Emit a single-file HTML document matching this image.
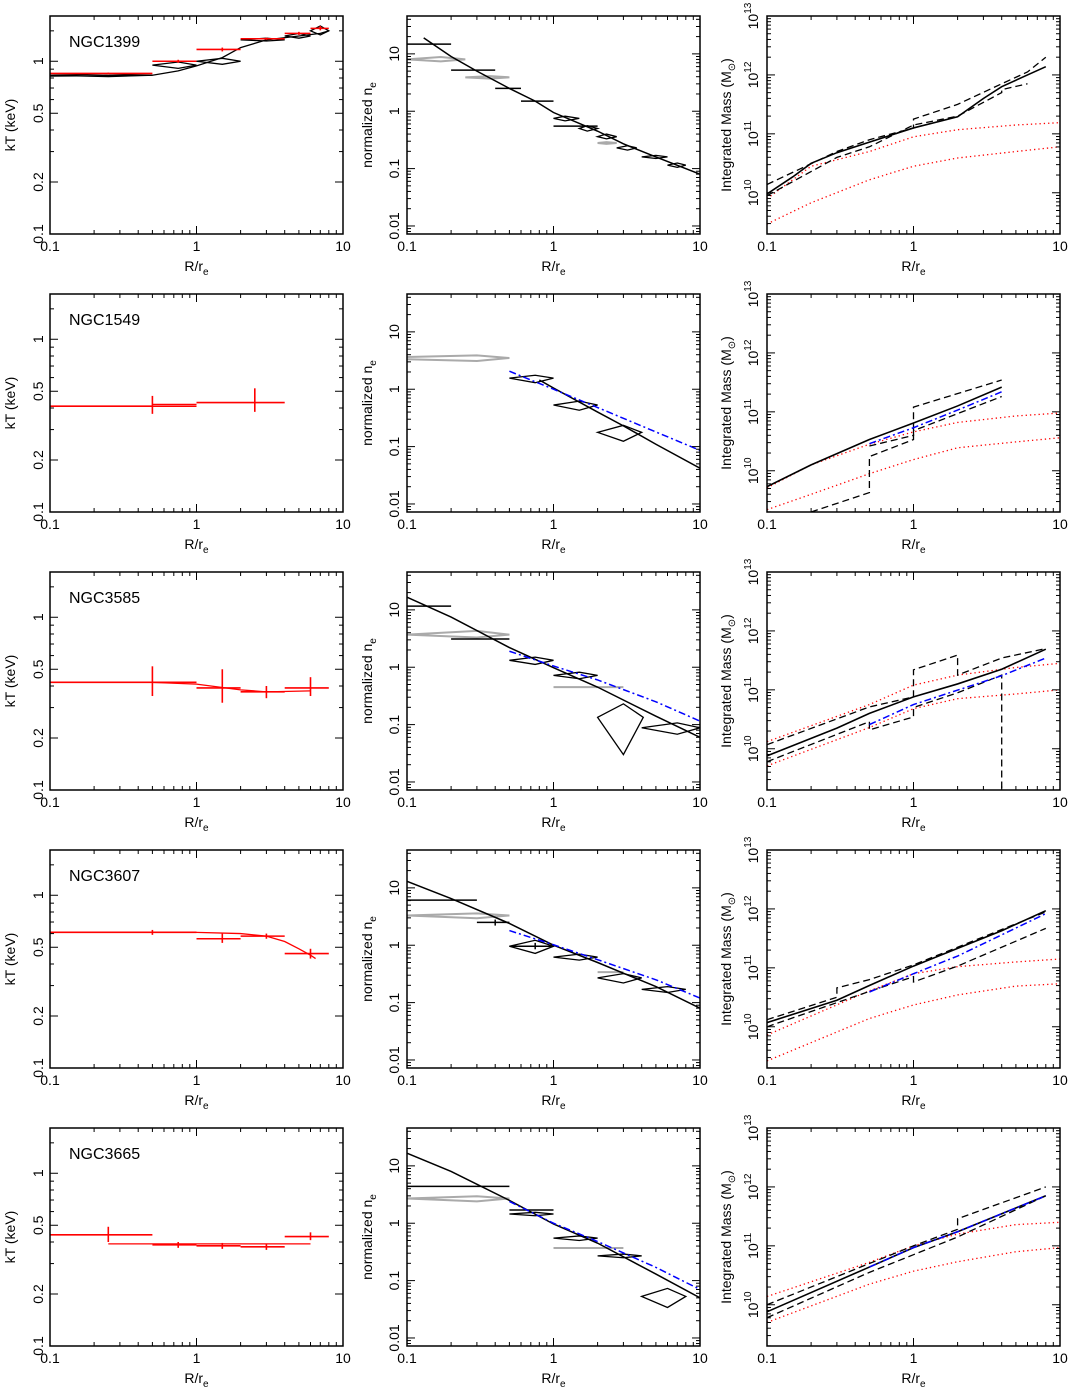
<!DOCTYPE html>
<html><head><meta charset="utf-8">
<style>
html,body{margin:0;padding:0;background:#fff;}
svg{display:block;font-family:"Liberation Sans",sans-serif;}
</style></head>
<body>
<svg id="fig" width="1068" height="1388" viewBox="0 0 1068 1388" xmlns="http://www.w3.org/2000/svg"></svg>
<script>
// ---------- DATA ----------
const galaxies = ["NGC1399","NGC1549","NGC3585","NGC3607","NGC3665"];
const xTicksMajor = [0.1,1,10];
const xTickLabels = ["0.1","1","10"];
const ktTickVals = [0.1,0.2,0.5,1];
const ktTickLabels = ["0.1","0.2","0.5","1"];
const neTickVals = [0.01,0.1,1,10];
const neTickLabels = ["0.01","0.1","1","10"];
const massTickExp = [10,11,12,13];

// kT panels: crosses [x,xlo,xhi,y,ylo,yhi]
const kt1399Red = [[0.25,0.1,0.5,0.85,0.84,0.86],[0.75,0.5,1,1.0,0.98,1.02],[1.5,1,2,1.17,1.14,1.2],[3,2,4,1.35,1.33,1.37],[5,4,6,1.45,1.42,1.48],[7,6,8,1.55,1.51,1.6]];
const kt1399Dia = [[0.25,0.1,0.5,0.83,0.815,0.845],[0.75,0.5,1,0.95,0.91,0.99],[1.5,1,2,1.0,0.96,1.04],[3,2,4,1.33,1.31,1.36],[5,4,6,1.4,1.36,1.45],[7,6,8,1.5,1.42,1.6]];
const kt1399CurveX = [0.1,0.5,0.75,1,1.5,2,3,5,7,8];
const kt1399CurveY = [0.82,0.83,0.88,0.94,1.05,1.2,1.33,1.4,1.45,1.5];
const kt1549Red = [[0.5,0.1,1,0.41,0.37,0.47],[2.5,1,4,0.43,0.38,0.52]];
const kt1549CurveX = [0.5,1];
const kt1549CurveY = [0.42,0.42];
const kt3585Red = [[0.5,0.1,1,0.42,0.35,0.52],[1.5,1,2,0.39,0.32,0.5],[3,2,4,0.37,0.34,0.4],[6,4,8,0.39,0.35,0.45]];
const kt3585CurveX = [0.1,0.5,1,2,3,6];
const kt3585CurveY = [0.42,0.42,0.41,0.38,0.37,0.375];
const kt3607Red = [[0.5,0.1,1,0.61,0.59,0.63],[1.5,1,2,0.56,0.53,0.6],[3,2,4,0.58,0.56,0.6],[6,4,8,0.46,0.43,0.49]];
const kt3607CurveX = [0.1,1,2,3,4,5,6,6.5];
const kt3607CurveY = [0.61,0.61,0.6,0.58,0.54,0.49,0.45,0.43];
const kt3665Red = [[0.25,0.1,0.5,0.44,0.4,0.49],[0.75,0.5,1,0.385,0.37,0.4],[1.5,1,2,0.38,0.365,0.395],[3,2,4,0.375,0.36,0.39],[6,4,8,0.43,0.41,0.455]];
const kt3665CurveX = [0.25,1,6];
const kt3665CurveY = [0.39,0.39,0.39];

// ne panels
const ne1399Cross = [[0.15,0.1,0.2,14.8,14.8,14.8],[0.3,0.2,0.4,5.2,5.2,5.2],[0.5,0.4,0.6,2.5,2.5,2.5],[0.75,0.6,1,1.5,1.5,1.5],[1.5,1,2,0.55,0.55,0.55]];
const ne1399Gray = [[0.17,0.1,0.25,8,7.4,8.8],[0.37,0.25,0.5,3.9,3.7,4.1],[2.3,2,2.7,0.28,0.27,0.29]];
const ne1399Dia = [[1.2,1,1.5,0.75,0.68,0.82],[1.7,1.5,2,0.5,0.45,0.56],[2.3,2,2.7,0.36,0.33,0.4],[3.2,2.7,3.7,0.23,0.21,0.25],[5,4,6,0.16,0.15,0.17],[7,6,8,0.115,0.105,0.125]];
const ne1399CurveX = [0.13,0.2,0.3,0.5,0.75,1,2,3,5,10];
const ne1399CurveY = [19,9,5,2.5,1.5,0.95,0.45,0.27,0.16,0.08];
const ne1549Gray = [[0.3,0.05,0.5,3.5,3.1,3.9]];
const ne1549Dia = [[0.75,0.5,1,1.56,1.3,1.75],[1.5,1,2,0.53,0.43,0.62],[3,2,4,0.177,0.124,0.235]];
const ne1549CurveX = [0.8,1,2,3,5,10];
const ne1549CurveY = [1.45,1.05,0.4,0.23,0.11,0.042];
const ne1549BlueX = [0.5,1,2,5,10];
const ne1549BlueY = [2.06,1.0,0.48,0.18,0.086];
const ne3585Cross = [[0.15,0.1,0.2,11.6,11.6,11.6],[0.36,0.2,0.5,3.1,3.1,3.1]];
const ne3585Gray = [[0.3,0.1,0.5,3.7,3.3,4.3],[2,1,3,0.45,0.45,0.45]];
const ne3585Dia = [[0.75,0.5,1,1.32,1.12,1.5],[1.5,1,2,0.72,0.63,0.82],[3,2,4.1,0.134,0.03,0.23],[7,4,10,0.088,0.068,0.107]];
const ne3585CurveX = [0.1,0.2,0.5,1,2,5,10];
const ne3585CurveY = [16.6,7.5,2.2,0.98,0.45,0.14,0.06];
const ne3585BlueX = [0.5,1,2,5,10];
const ne3585BlueY = [1.9,1.05,0.6,0.25,0.115];
const ne3607Cross = [[0.2,0.1,0.3,6.1,6.1,6.1],[0.4,0.3,0.5,2.5,2.2,2.8],[0.75,0.5,1,0.96,0.85,1.1]];
const ne3607Gray = [[0.3,0.1,0.5,3.3,2.95,3.6],[2.5,2,3,0.34,0.34,0.34]];
const ne3607Dia = [[0.75,0.5,1,0.96,0.72,1.22],[1.5,1,2,0.62,0.55,0.7],[3,2,4,0.27,0.22,0.32],[6,4,8,0.17,0.15,0.19]];
const ne3607CurveX = [0.1,0.2,0.5,1,2,5,10];
const ne3607CurveY = [13,6.5,2.4,1.0,0.5,0.19,0.08];
const ne3607BlueX = [0.5,1,2,5,10];
const ne3607BlueY = [1.8,1.02,0.56,0.25,0.12];
const ne3665Cross = [[0.3,0.1,0.5,4.4,4.4,4.4],[0.75,0.5,1,1.7,1.7,1.7]];
const ne3665Gray = [[0.3,0.1,0.5,2.7,2.4,2.95],[2,1,3,0.37,0.37,0.37]];
const ne3665Dia = [[0.75,0.5,1,1.45,1.35,1.55],[1.5,1,2,0.55,0.5,0.6],[3,2,4,0.27,0.25,0.29],[6,4,8,0.053,0.034,0.073]];
const ne3665CurveX = [0.1,0.2,0.5,1,2,5,10];
const ne3665CurveY = [16.6,8,2.5,0.97,0.45,0.13,0.05];
const ne3665BlueX = [0.5,1,2,5,10];
const ne3665BlueY = [2.4,1.0,0.48,0.17,0.07];

// mass panels (log10 M)
const m1399SolidX = [0.1,0.15,0.2,0.3,0.5,1,2,3,4,6,8];
const m1399SolidY = [9.98,10.27,10.5,10.68,10.86,11.1,11.29,11.6,11.8,12.0,12.14];
const m1399DashAX = [0.1,0.3,0.5,1,1,2,4,6,8];
const m1399DashAY = [10.14,10.7,10.9,11.1,11.25,11.5,11.85,12.05,12.3];
const m1399DashBX = [0.1,0.3,0.5,1,2,4,4,6];
const m1399DashBY = [9.95,10.6,10.78,11.15,11.3,11.7,11.75,11.85];
const m1399RedAX = [0.1,0.2,0.5,1,2,5,10];
const m1399RedAY = [9.9,10.45,10.7,10.95,11.07,11.15,11.19];
const m1399RedBX = [0.1,0.2,0.5,1,2,5,10];
const m1399RedBY = [9.47,9.83,10.22,10.45,10.59,10.7,10.78];

const m1549SolidX = [0.1,0.2,0.5,1,2,4];
const m1549SolidY = [9.73,10.1,10.53,10.81,11.1,11.42];
const m1549BlueX = [0.5,1,2,4];
const m1549BlueY = [10.46,10.73,11.03,11.34];
const m1549DashAX = [0.2,0.5,0.5,1,1,4];
const m1549DashAY = [9.3,9.63,10.24,10.53,11.08,11.54];
const m1549DashBX = [0.5,1,1,4];
const m1549DashBY = [10.42,10.6,10.68,11.26];
const m1549RedAX = [0.1,0.2,0.5,1,2,5,10];
const m1549RedAY = [9.71,10.1,10.45,10.66,10.82,10.93,10.98];
const m1549RedBX = [0.1,0.2,0.5,1,2,5,10];
const m1549RedBY = [9.34,9.6,9.95,10.19,10.39,10.49,10.56];

const m3585SolidX = [0.1,0.3,0.5,1,2,4,8];
const m3585SolidY = [9.88,10.35,10.6,10.88,11.1,11.35,11.69];
const m3585BlueX = [0.5,1,4,8];
const m3585BlueY = [10.41,10.75,11.24,11.54];
const m3585DashAX = [0.1,0.5,1,1,2,2,4,8];
const m3585DashAY = [10.07,10.71,10.88,11.34,11.59,11.25,11.54,11.7];
const m3585DashBX = [0.1,0.5,0.5,1,1,2,4,4];
const m3585DashBY = [9.78,10.46,10.32,10.54,10.7,10.95,11.25,9.3];
const m3585RedAX = [0.1,0.5,1,2,5,10];
const m3585RedAY = [10.12,10.75,11.08,11.25,11.38,11.45];
const m3585RedBX = [0.1,0.5,1,2,5,10];
const m3585RedBY = [9.71,10.36,10.68,10.85,10.93,11.0];

const m3607SolidX = [0.1,0.3,0.5,1,2,4,8];
const m3607SolidY = [10.07,10.45,10.7,11.03,11.33,11.63,11.97];
const m3607BlueX = [0.5,1,2,8];
const m3607BlueY = [10.59,10.9,11.2,11.92];
const m3607DashAX = [0.1,0.3,0.3,0.5,1,2,4,8];
const m3607DashAY = [10.12,10.5,10.66,10.8,11.05,11.35,11.65,11.95];
const m3607DashBX = [0.1,0.5,1,1,2,8];
const m3607DashBY = [10.0,10.6,10.85,10.76,11.03,11.67];
const m3607RedAX = [0.1,0.5,1,2,5,10];
const m3607RedAY = [9.86,10.61,10.9,11.02,11.1,11.15];
const m3607RedBX = [0.1,0.5,1,2,5,10];
const m3607RedBY = [9.42,10.14,10.37,10.54,10.69,10.73];

const m3665SolidX = [0.1,0.5,1,2,8];
const m3665SolidY = [9.88,10.64,10.97,11.24,11.85];
const m3665BlueX = [0.5,1,2,8];
const m3665BlueY = [10.64,10.97,11.24,11.85];
const m3665DashAX = [0.1,0.5,1,2,2,8];
const m3665DashAY = [10.0,10.7,11.0,11.28,11.46,12.0];
const m3665DashBX = [0.1,0.5,1,2,8];
const m3665DashBY = [9.78,10.55,10.85,11.15,11.85];
const m3665RedAX = [0.1,0.5,1,2,5,10];
const m3665RedAY = [10.14,10.72,11.0,11.2,11.36,11.4];
const m3665RedBX = [0.1,0.5,1,2,5,10];
const m3665RedBY = [9.7,10.35,10.57,10.73,10.9,10.97];

// ---------- DRAWING ----------
const NS = "http://www.w3.org/2000/svg";
const svg = document.getElementById("fig");
const COLS = [50,407,767], W = 293, H = 218, TOP0 = 16, PITCH = 278;
const KT_RANGE = [-1, 0.262], NE_RANGE = [-2.14, 1.66], M_RANGE = [9.3, 13];

function mk(tag, attrs, parent, name){
  const el = document.createElementNS(NS, tag);
  for (const k in attrs) el.setAttribute(k, attrs[k]);
  
  
  (parent || svg).appendChild(el);
  return el;
}
const L = Math.log10;

function panel(row, col, yr, ylog){
  const left = COLS[col], top = TOP0 + PITCH*row, bottom = top + H, right = left + W;
  const sx = v => left + (L(v)+1)/2*W;
  const sy = v => { const lv = ylog ? L(v) : v; return bottom - (lv - yr[0])/(yr[1]-yr[0])*H; };
  const g = mk('g', {}, svg, 'panel-r'+(row+1)+'-c'+(col+1));
  const cid = 'clip'+row+'_'+col;
  const cp = mk('clipPath', {id:cid}, g, 'clip-region');
  mk('rect', {x:left, y:top, width:W, height:H}, cp, 'clip-rect');
  const plot = mk('g', {'clip-path':'url(#'+cid+')'}, g, 'plot-area');
  return {left, top, bottom, right, sx, sy, g, plot};
}

function axes(p, yMajor, yMinor){
  const g = p.g;
  for (let d=-1; d<1; d++){
    for (let m=1; m<=9; m++){
      const v = m*Math.pow(10,d); const x = p.sx(v); const len = m===1?8:4;
      mk('line',{x1:x,y1:p.bottom,x2:x,y2:p.bottom-len,stroke:'#000','stroke-width':1},g,'x-tick');
      mk('line',{x1:x,y1:p.top,x2:x,y2:p.top+len,stroke:'#000','stroke-width':1},g,'x-tick-top');
    }
  }
  yMajor.forEach(v=>{ const y=p.sy(v);
    mk('line',{x1:p.left,y1:y,x2:p.left+8,y2:y,stroke:'#000','stroke-width':1},g,'y-tick');
    mk('line',{x1:p.right,y1:y,x2:p.right-8,y2:y,stroke:'#000','stroke-width':1},g,'y-tick-right');
  });
  yMinor.forEach(v=>{ const y=p.sy(v); if (y<p.top||y>p.bottom) return;
    mk('line',{x1:p.left,y1:y,x2:p.left+4,y2:y,stroke:'#000','stroke-width':1},g,'y-minor-tick');
    mk('line',{x1:p.right,y1:y,x2:p.right-4,y2:y,stroke:'#000','stroke-width':1},g,'y-minor-tick-right');
  });
  mk('rect',{x:p.left,y:p.top,width:W,height:H,fill:'none',stroke:'#000','stroke-width':1.5},g,'plot-frame');
  xTicksMajor.forEach((v,i)=>{
    const t = mk('text',{x:p.sx(v),y:p.bottom+17,'text-anchor':'middle','font-size':14},g,'x-tick-label');
    t.textContent = xTickLabels[i];
  });
  const xt = mk('text',{x:(p.left+p.right)/2,y:p.bottom+37,'text-anchor':'middle','font-size':14},g,'x-axis-title');
  xt.textContent = 'R/r';
  const sub = mk('tspan',{'font-size':10,dy:4},xt,'x-title-subscript');
  sub.textContent = 'e';
}

function poly(p, xs, ys, style, name){
  const pts = xs.map((x,i)=>p.sx(x)+','+p.sy(ys[i])).join(' ');
  return mk('polyline', Object.assign({points:pts, fill:'none'}, style), p.plot, name);
}
function crosses(p, arr, color, w, name){
  arr.forEach(d=>{
    mk('line',{x1:p.sx(d[1]),y1:p.sy(d[3]),x2:p.sx(d[2]),y2:p.sy(d[3]),stroke:color,'stroke-width':w},p.plot,name);
    mk('line',{x1:p.sx(d[0]),y1:p.sy(d[4]),x2:p.sx(d[0]),y2:p.sy(d[5]),stroke:color,'stroke-width':w},p.plot,name+'-err');
  });
}
function diamonds(p, arr, color, w, name){
  arr.forEach(d=>{
    const pts = [[d[1],d[3]],[d[0],d[5]],[d[2],d[3]],[d[0],d[4]]].map(q=>p.sx(q[0])+','+p.sy(q[1])).join(' ');
    mk('polygon',{points:pts,fill:'none',stroke:color,'stroke-width':w},p.plot,name);
  });
}

const ktMinor = [0.3,0.4,0.6,0.7,0.8,0.9,1.5];
const decMinor = [];
for (let d=-3; d<2; d++) for (let m=2; m<=9; m++) decMinor.push(m*Math.pow(10,d));
const massMinor = [];
for (let d=9; d<13; d++) for (let m=2; m<=9; m++) massMinor.push(d+L(m));

const ktRed = [kt1399Red,kt1549Red,kt3585Red,kt3607Red,kt3665Red];
const ktCX = [kt1399CurveX,kt1549CurveX,kt3585CurveX,kt3607CurveX,kt3665CurveX];
const ktCY = [kt1399CurveY,kt1549CurveY,kt3585CurveY,kt3607CurveY,kt3665CurveY];
const neCross = [ne1399Cross,[],ne3585Cross,ne3607Cross,ne3665Cross];
const neGray = [ne1399Gray,ne1549Gray,ne3585Gray,ne3607Gray,ne3665Gray];
const neDia = [ne1399Dia,ne1549Dia,ne3585Dia,ne3607Dia,ne3665Dia];
const neCX = [ne1399CurveX,ne1549CurveX,ne3585CurveX,ne3607CurveX,ne3665CurveX];
const neCY = [ne1399CurveY,ne1549CurveY,ne3585CurveY,ne3607CurveY,ne3665CurveY];
const neBX = [null,ne1549BlueX,ne3585BlueX,ne3607BlueX,ne3665BlueX];
const neBY = [null,ne1549BlueY,ne3585BlueY,ne3607BlueY,ne3665BlueY];
const mS = [[m1399SolidX,m1399SolidY],[m1549SolidX,m1549SolidY],[m3585SolidX,m3585SolidY],[m3607SolidX,m3607SolidY],[m3665SolidX,m3665SolidY]];
const mB = [null,[m1549BlueX,m1549BlueY],[m3585BlueX,m3585BlueY],[m3607BlueX,m3607BlueY],[m3665BlueX,m3665BlueY]];
const mDA = [[m1399DashAX,m1399DashAY],[m1549DashAX,m1549DashAY],[m3585DashAX,m3585DashAY],[m3607DashAX,m3607DashAY],[m3665DashAX,m3665DashAY]];
const mDB = [[m1399DashBX,m1399DashBY],[m1549DashBX,m1549DashBY],[m3585DashBX,m3585DashBY],[m3607DashBX,m3607DashBY],[m3665DashBX,m3665DashBY]];
const mRA = [[m1399RedAX,m1399RedAY],[m1549RedAX,m1549RedAY],[m3585RedAX,m3585RedAY],[m3607RedAX,m3607RedAY],[m3665RedAX,m3665RedAY]];
const mRB = [[m1399RedBX,m1399RedBY],[m1549RedBX,m1549RedBY],[m3585RedBX,m3585RedBY],[m3607RedBX,m3607RedBY],[m3665RedBX,m3665RedBY]];

function rotText(g, x, y, txt, size, name){
  const t = mk('text',{x:x,y:y,'text-anchor':'middle','font-size':size,transform:'rotate(-90 '+x+' '+y+')'},g,name);
  t.textContent = txt;
  return t;
}

for (let r=0; r<5; r++){
  const p1 = panel(r,0,KT_RANGE,true);
  if (r===0){
    diamonds(p1, kt1399Dia, '#000', 1.3, 'kt-model-diamond');
    poly(p1, ktCX[r], ktCY[r], {stroke:'#000','stroke-width':1.3}, 'kt-black-curve');
  } else {
    poly(p1, ktCX[r], ktCY[r], {stroke:'#f00','stroke-width':1.3}, 'kt-red-curve');
  }
  crosses(p1, ktRed[r], '#f00', 1.6, 'kt-data-cross');
  axes(p1, ktTickVals, ktMinor);
  ktTickVals.forEach((v,i)=>rotText(p1.g, 43, p1.sy(v), ktTickLabels[i], 14, 'kt-tick-label'));
  rotText(p1.g, 15, p1.top+H/2, 'kT (keV)', 14, 'kt-axis-title');
  const nm = mk('text',{x:69,y:p1.top+31,'font-size':16},p1.g,'galaxy-name');
  nm.textContent = galaxies[r];

  const p2 = panel(r,1,NE_RANGE,true);
  diamonds(p2, neGray[r], '#aaa', 2, 'ne-gray-profile');
  crosses(p2, neCross[r], '#000', 1.5, 'ne-data-cross');
  diamonds(p2, neDia[r], '#000', 1.3, 'ne-data-diamond');
  poly(p2, neCX[r], neCY[r], {stroke:'#000','stroke-width':1.5}, 'ne-model-curve');
  if (neBX[r]) poly(p2, neBX[r], neBY[r], {stroke:'#00f','stroke-width':1.5,'stroke-dasharray':'7,3,2,3'}, 'ne-blue-dashdot');
  axes(p2, neTickVals, decMinor);
  neTickVals.forEach((v,i)=>rotText(p2.g, 399, p2.sy(v), neTickLabels[i], 14, 'ne-tick-label'));
  const nt = rotText(p2.g, 372, p2.top+H/2, 'normalized n', 14, 'ne-axis-title');
  const ns = mk('tspan',{'font-size':10,dy:4},nt,'ne-title-subscript'); ns.textContent='e';

  const p3 = panel(r,2,M_RANGE,false);
  poly(p3, mRA[r][0], mRA[r][1], {stroke:'#f00','stroke-width':1.3,'stroke-dasharray':'1.3,3'}, 'mass-red-dotted-upper');
  poly(p3, mRB[r][0], mRB[r][1], {stroke:'#f00','stroke-width':1.3,'stroke-dasharray':'1.3,3'}, 'mass-red-dotted-lower');
  poly(p3, mDA[r][0], mDA[r][1], {stroke:'#000','stroke-width':1.3,'stroke-dasharray':'7,4'}, 'mass-dashed-upper');
  poly(p3, mDB[r][0], mDB[r][1], {stroke:'#000','stroke-width':1.3,'stroke-dasharray':'7,4'}, 'mass-dashed-lower');
  poly(p3, mS[r][0], mS[r][1], {stroke:'#000','stroke-width':1.6}, 'mass-solid-curve');
  if (mB[r]) poly(p3, mB[r][0], mB[r][1], {stroke:'#00f','stroke-width':1.5,'stroke-dasharray':'7,3,2,3'}, 'mass-blue-dashdot');
  axes(p3, massTickExp, massMinor);
  massTickExp.forEach(e=>{
    const y = p3.sy(e); const x = 758;
    const t = mk('text',{x:x,y:y,'text-anchor':'middle','font-size':14,transform:'rotate(-90 '+x+' '+y+')'},p3.g,'mass-tick-label');
    const a = mk('tspan',{},t,'mass-tick-base'); a.textContent='10';
    const b = mk('tspan',{'font-size':10,dy:-7},t,'mass-tick-exponent'); b.textContent=String(e);
  });
  const mt = rotText(p3.g, 731, p3.top+H/2, 'Integrated Mass (M', 14, 'mass-axis-title');
  const ms = mk('tspan',{'font-size':10,dy:4},mt,'mass-title-subscript'); ms.textContent='\u2299';
  const mc = mk('tspan',{dy:-4},mt,'mass-title-close'); mc.textContent=')';
}
</script>
</body></html>
